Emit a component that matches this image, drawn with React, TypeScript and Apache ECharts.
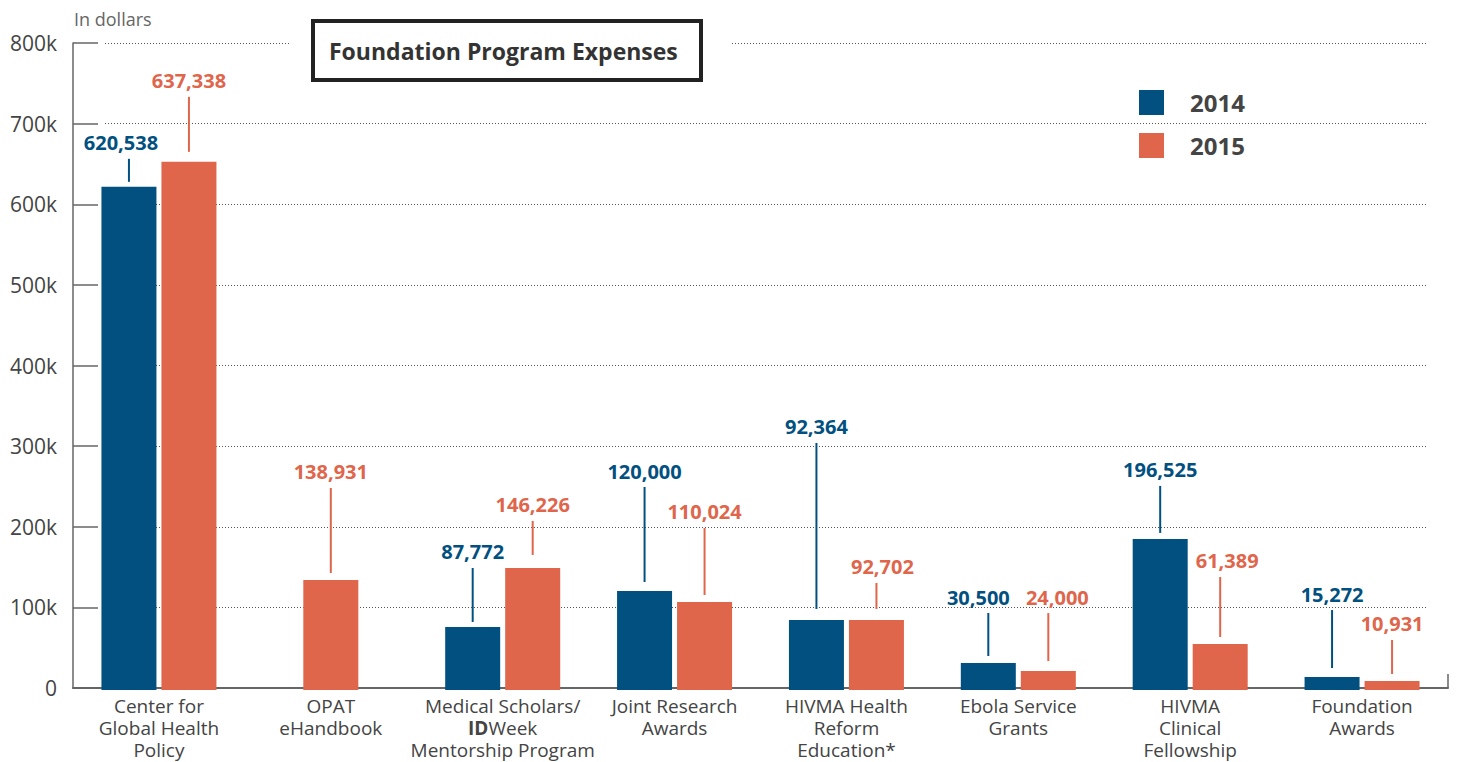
import React, { useEffect, useRef } from "react";
import * as echarts from "echarts";

const CATEGORIES = [
  "Center for\nGlobal Health\nPolicy",
  "OPAT\neHandbook",
  "Medical Scholars/\nIDWeek\nMentorship Program",
  "Joint Research\nAwards",
  "HIVMA Health\nReform\nEducation*",
  "Ebola Service\nGrants",
  "HIVMA\nClinical\nFellowship",
  "Foundation\nAwards",
];
const SERIES_NAMES = ["2014", "2015"];
// bar heights as drawn in the picture (dollars)
const VALUES_2014 = [621600, null, 75700, 120300, 84400, 31000, 184900, 13600];
const VALUES_2015 = [652600, 134000, 148900, 106700, 84400, 21000, 54600, 8700];
// printed value labels
const LABELS_2014 = [620538, null, 87772, 120000, 92364, 30500, 196525, 15272];
const LABELS_2015 = [637338, 138931, 146226, 110024, 92702, 24000, 61389, 10931];
const Y_TICKS = [0, 100000, 200000, 300000, 400000, 500000, 600000, 700000, 800000];

// layout (px): label lift above bar top, gap between leader line and bar, label x shift
const LABEL_RISE = [
  [44, 0, 75, 120, 193, 66, 69, 83],
  [81, 108, 63, 90, 53, 74, 83, 57],
];
const LINE_GAP = [
  [5, 0, 5, 9, 11, 7, 6, 9],
  [10, 7, 13, 7, 11, 10, 7, 7],
];
const LABEL_SHIFT = [
  [-8, 0, 0, 0, 0, -10, 0, 0],
  [0, 0, 0, 0, 6, 9, 7, 0],
];

const BLUE = "#01507f";
const ORANGE = "#df654b";
const FONT = "'Open Sans', sans-serif";
const BAR_W = 55;
const BAR_GAP = 5;

const VALUES = [VALUES_2014, VALUES_2015];
const LABELS = [LABELS_2014, LABELS_2015];
const COLORS = [BLUE, ORANGE];

function makeSeries(s: number) {
  const vals = VALUES[s];
  const data: number[][] = [];
  vals.forEach((v, i) => {
    if (v != null) data.push([i, v]);
  });
  return {
    type: "custom",
    name: SERIES_NAMES[s],
    xAxisIndex: 0,
    yAxisIndex: 0,
    clip: false,
    itemStyle: { color: COLORS[s] },
    encode: { x: 0, y: 1 },
    data,
    renderItem: (params: any, api: any) => {
      const i = api.value(0);
      const v = api.value(1);
      const other = VALUES[1 - s][i];
      const base = api.coord([i, 0]);
      const topPt = api.coord([i, v]);
      let cx = base[0];
      if (other != null) {
        const off = BAR_GAP / 2 + BAR_W / 2;
        cx = s === 0 ? cx - off : cx + off;
      }
      const top = topPt[1];
      const labelY = top - LABEL_RISE[s][i];
      const lbl = LABELS[s][i];
      const children: any[] = [
        {
          type: "rect",
          shape: { x: cx - BAR_W / 2, y: top, width: BAR_W, height: base[1] - top + 2 },
          style: { fill: COLORS[s] },
        },
      ];
      if (lbl != null) {
        children.push({
          type: "line",
          shape: { x1: cx, y1: labelY + 16, x2: cx, y2: top - LINE_GAP[s][i] },
          style: { stroke: COLORS[s], lineWidth: 2 },
        });
        children.push({
          type: "text",
          x: cx + LABEL_SHIFT[s][i],
          y: labelY,
          style: {
            text: (lbl as number).toLocaleString("en-US"),
            fill: COLORS[s],
            fontSize: 20,
            fontWeight: "bold",
            fontFamily: FONT,
            align: "center",
            verticalAlign: "middle",
          },
        });
      }
      return { type: "group", children };
    },
  };
}

export default function App() {
  const ref = useRef<HTMLDivElement>(null);
  useEffect(() => {
    if (!ref.current) return;
    const chart = echarts.init(ref.current, null, { renderer: "svg" });
    const option: any = {
      animation: false,
      backgroundColor: "#ffffff",
      textStyle: { fontFamily: FONT },
      grid: [
        { left: 73, right: 12, top: 43, bottom: 74, containLabel: false },
        { left: 105, right: 34, top: 43, bottom: 74, containLabel: false },
      ],
      legend: {
        orient: "vertical",
        left: 1139,
        top: 90,
        padding: 0,
        itemWidth: 25,
        itemHeight: 25,
        itemGap: 18,
        selectedMode: false,
        data: SERIES_NAMES.map((n, k) => ({ name: n, icon: "rect", itemStyle: { color: COLORS[k] } })),
        textStyle: {
          fontSize: 24,
          fontWeight: "bold",
          color: "#444",
          fontFamily: FONT,
          padding: [0, 0, 0, 21],
        },
      },
      xAxis: [
        {
          type: "category",
          gridIndex: 0,
          data: CATEGORIES,
          axisLine: { show: true, lineStyle: { color: "#666", width: 2 } },
          axisTick: { show: false },
          axisLabel: {
            interval: 0,
            margin: 7,
            fontSize: 19,
            lineHeight: 22,
            color: "#444",
            fontFamily: FONT,
            formatter: (v: string) => v.replace("IDWeek", "{b|ID}Week"),
            rich: {
              b: { fontSize: 19, lineHeight: 22, fontWeight: "bold", color: "#444", fontFamily: FONT },
            },
          },
          splitLine: { show: false },
        },
        {
          type: "category",
          gridIndex: 1,
          data: CATEGORIES,
          axisLine: { show: false },
          axisTick: { show: false },
          axisLabel: { show: false },
          splitLine: { show: false },
        },
      ],
      yAxis: [
        {
          type: "value",
          gridIndex: 0,
          min: Y_TICKS[0],
          max: Y_TICKS[Y_TICKS.length - 1],
          interval: 100000,
          axisLine: { show: true, lineStyle: { color: "#666", width: 1.5 } },
          axisTick: { show: true, inside: true, length: 25, lineStyle: { color: "#666", width: 1.5 } },
          axisLabel: {
            margin: 16,
            fontSize: 21,
            color: "#444",
            fontFamily: FONT,
            formatter: (v: number) => (v === 0 ? "0" : v / 1000 + "k"),
          },
          splitLine: { show: false },
        },
        {
          type: "value",
          gridIndex: 1,
          min: Y_TICKS[0],
          max: Y_TICKS[Y_TICKS.length - 1],
          interval: 100000,
          axisLine: { show: false },
          axisTick: { show: false },
          axisLabel: { show: false },
          splitLine: { show: true, lineStyle: { color: "#555", width: 1.2, type: [1, 2] } },
        },
      ],
      series: [makeSeries(0), makeSeries(1)],
      graphic: [
        {
          type: "text",
          left: 74,
          top: 10,
          z: 100,
          style: { text: "In dollars", fontSize: 18, fill: "#666", fontFamily: FONT },
        },
        {
          type: "rect",
          z: 100,
          shape: { x: 290, y: 36, width: 440, height: 14 },
          style: { fill: "#ffffff" },
        },
        {
          type: "rect",
          z: 101,
          shape: { x: 313, y: 21, width: 388, height: 59 },
          style: { fill: "#ffffff", stroke: "#222", lineWidth: 4 },
        },
        {
          type: "text",
          z: 102,
          x: 329,
          y: 51,
          style: {
            text: "Foundation Program Expenses",
            fontSize: 23,
            fontWeight: "bold",
            fill: "#333",
            fontFamily: FONT,
            verticalAlign: "middle",
          },
        },
        {
          type: "line",
          z: 100,
          shape: { x1: 1448, y1: 674, x2: 1448, y2: 688 },
          style: { stroke: "#666", lineWidth: 1.5 },
        },
      ],
    };
    chart.setOption(option);
    return () => chart.dispose();
  }, []);
  return (
    <div
      ref={ref}
      style={{ position: "absolute", left: 0, top: 0, width: 1460, height: 762 }}
    />
  );
}
